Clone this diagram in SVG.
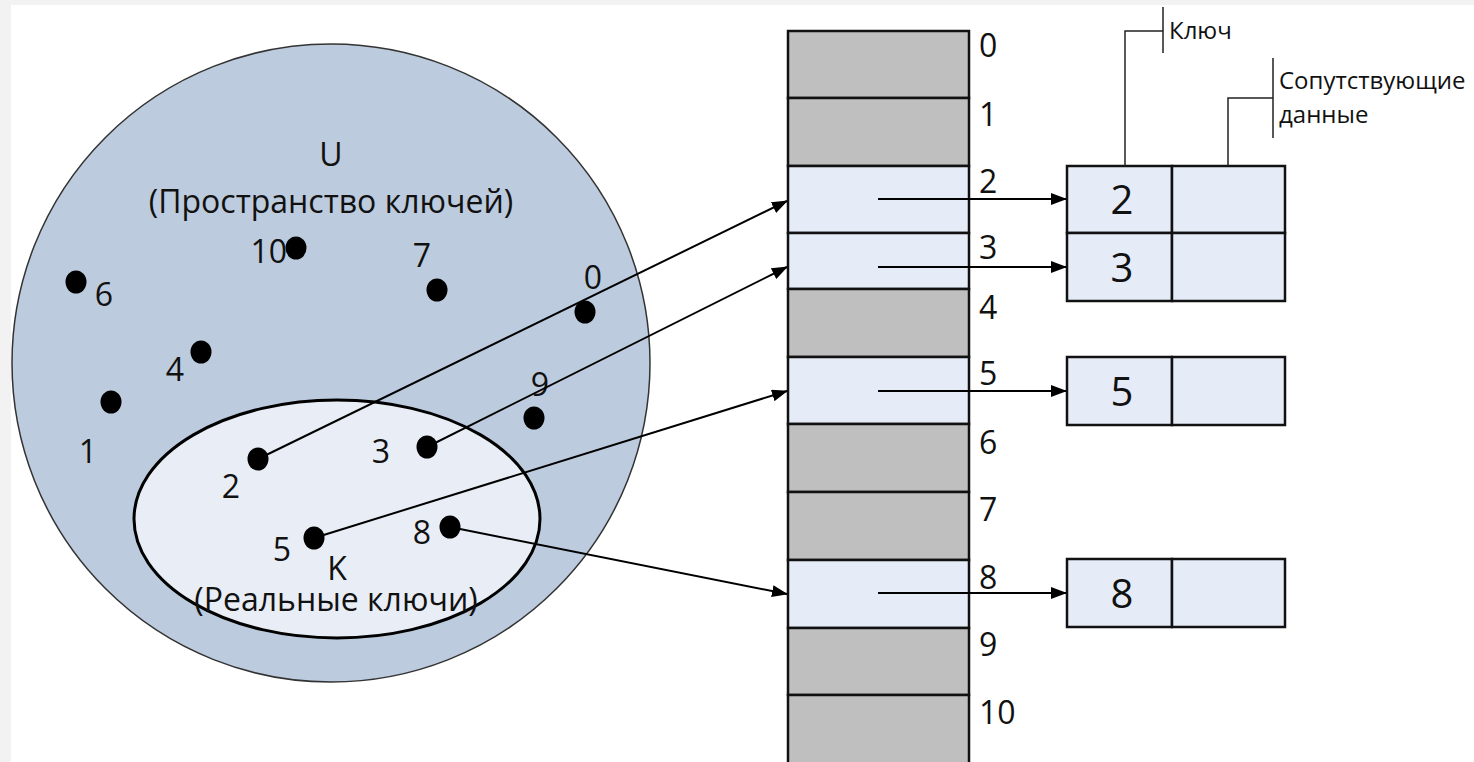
<svg xmlns="http://www.w3.org/2000/svg" width="1474" height="762" viewBox="0 0 1474 762">
<defs>
<marker id="ah" markerWidth="16" markerHeight="12" refX="15" refY="6" orient="auto" markerUnits="userSpaceOnUse">
<path d="M0,0 L16,6 L0,12 Z" fill="#000"/>
</marker>
<style>
text{font-family:"Open Sans","Noto Sans",sans-serif;fill:#111;}
.t{font-size:32px;}
.big{font-size:40px;}
.sm{font-size:24px;}
.dot{fill:#000;}
.gray{fill:#bfbfbf;stroke:#111;stroke-width:2.5;}
.light{fill:#e6ecf7;stroke:#111;stroke-width:2.5;}
.rec{fill:#e6ecf7;stroke:#111;stroke-width:2.5;}
.con{stroke:#000;stroke-width:2;fill:none;}
.thin{stroke:#222;stroke-width:1.5;fill:none;}
</style>
</defs>
<rect x="0" y="0" width="1474" height="762" fill="#ffffff"/>
<rect x="0" y="0" width="1474" height="5" fill="#f2f2f2"/>
<rect x="0" y="0" width="11" height="762" fill="#f2f2f2"/>

<g id="universe">
<circle cx="331" cy="363" r="319" fill="#bccbdd" stroke="#333" stroke-width="1.5"/>
<text class="t" x="331" y="166" text-anchor="middle">U</text>
<text class="t" x="331" y="213" text-anchor="middle">(Пространство ключей)</text>
</g>
<g id="real-keys">
<ellipse cx="337" cy="519" rx="203" ry="119" fill="#e8edf6" stroke="#000" stroke-width="3"/>
<text class="t" x="337" y="580" text-anchor="middle">K</text>
<text class="t" x="336" y="611" text-anchor="middle">(Реальные ключи)</text>
</g>

<g id="points">
<ellipse class="dot" cx="296" cy="248" rx="10.5" ry="11.5"/><text class="t" x="287" y="263" text-anchor="end">10</text>
<ellipse class="dot" cx="437" cy="290" rx="10.5" ry="11.5"/><text class="t" x="422" y="267" text-anchor="middle">7</text>
<ellipse class="dot" cx="76" cy="282" rx="10.5" ry="11.5"/><text class="t" x="104" y="306" text-anchor="middle">6</text>
<ellipse class="dot" cx="585" cy="312" rx="10.5" ry="11.5"/><text class="t" x="593" y="289" text-anchor="middle">0</text>
<ellipse class="dot" cx="201" cy="352" rx="10.5" ry="11.5"/><text class="t" x="175" y="381" text-anchor="middle">4</text>
<ellipse class="dot" cx="111" cy="402" rx="10.5" ry="11.5"/><text class="t" x="88" y="463" text-anchor="middle">1</text>
<ellipse class="dot" cx="534" cy="418" rx="10.5" ry="11.5"/><text class="t" x="540" y="396" text-anchor="middle">9</text>
<ellipse class="dot" cx="258" cy="459" rx="10.5" ry="11.5"/><text class="t" x="231" y="498" text-anchor="middle">2</text>
<ellipse class="dot" cx="427" cy="447" rx="10.5" ry="11.5"/><text class="t" x="381" y="463" text-anchor="middle">3</text>
<ellipse class="dot" cx="314" cy="538" rx="10.5" ry="11.5"/><text class="t" x="282" y="561" text-anchor="middle">5</text>
<ellipse class="dot" cx="450" cy="527" rx="10.5" ry="11.5"/><text class="t" x="422" y="544" text-anchor="middle">8</text>
</g>

<g id="table">
<rect class="gray" x="788" y="31" width="181" height="67"/>
<rect class="gray" x="788" y="98" width="181" height="68"/>
<rect class="light" x="788" y="166" width="181" height="67"/>
<rect class="light" x="788" y="233" width="181" height="56"/>
<rect class="gray" x="788" y="289" width="181" height="68"/>
<rect class="light" x="788" y="357" width="181" height="67"/>
<rect class="gray" x="788" y="424" width="181" height="68"/>
<rect class="gray" x="788" y="492" width="181" height="68"/>
<rect class="light" x="788" y="560" width="181" height="68"/>
<rect class="gray" x="788" y="628" width="181" height="67"/>
<rect class="gray" x="788" y="695" width="181" height="80"/>
<text class="t" x="979" y="57">0</text>
<text class="t" x="979" y="126">1</text>
<text class="t" x="979" y="193">2</text>
<text class="t" x="979" y="259">3</text>
<text class="t" x="979" y="319">4</text>
<text class="t" x="979" y="385">5</text>
<text class="t" x="979" y="454">6</text>
<text class="t" x="979" y="521">7</text>
<text class="t" x="979" y="589">8</text>
<text class="t" x="979" y="656">9</text>
<text class="t" x="979" y="724">10</text>
</g>

<g id="record-2">
<rect class="rec" x="1067" y="166" width="105" height="67"/>
<rect class="rec" x="1172" y="166" width="113" height="67"/>
<text class="big" x="1122" y="214" text-anchor="middle">2</text>
</g>
<g id="record-3">
<rect class="rec" x="1067" y="233" width="105" height="68"/>
<rect class="rec" x="1172" y="233" width="113" height="68"/>
<text class="big" x="1122" y="282" text-anchor="middle">3</text>
</g>
<g id="record-5">
<rect class="rec" x="1067" y="357" width="105" height="68"/>
<rect class="rec" x="1172" y="357" width="113" height="68"/>
<text class="big" x="1122" y="406" text-anchor="middle">5</text>
</g>
<g id="record-8">
<rect class="rec" x="1067" y="559" width="105" height="68"/>
<rect class="rec" x="1172" y="559" width="113" height="68"/>
<text class="big" x="1122" y="608" text-anchor="middle">8</text>
</g>

<g id="label-key">
<path class="thin" d="M1125,166 V31 H1163 M1163,7 V53"/>
<text class="sm" x="1169" y="39">Ключ</text>
</g>
<g id="label-data">
<path class="thin" d="M1228,166 V98 H1273 M1273,58 V138"/>
<text class="sm" x="1279" y="89">Сопутствующие</text>
<text class="sm" x="1279" y="123">данные</text>
</g>

<g id="connectors">
<line class="con" x1="258" y1="459" x2="787" y2="201" marker-end="url(#ah)"/>
<line class="con" x1="427" y1="447" x2="787" y2="267" marker-end="url(#ah)"/>
<line class="con" x1="314" y1="538" x2="787" y2="391" marker-end="url(#ah)"/>
<line class="con" x1="450" y1="527" x2="787" y2="594" marker-end="url(#ah)"/>
<line class="con" x1="878" y1="199" x2="1066" y2="199" marker-end="url(#ah)"/>
<line class="con" x1="878" y1="267" x2="1066" y2="267" marker-end="url(#ah)"/>
<line class="con" x1="878" y1="391" x2="1066" y2="391" marker-end="url(#ah)"/>
<line class="con" x1="878" y1="593" x2="1066" y2="593" marker-end="url(#ah)"/>
</g>
</svg>
